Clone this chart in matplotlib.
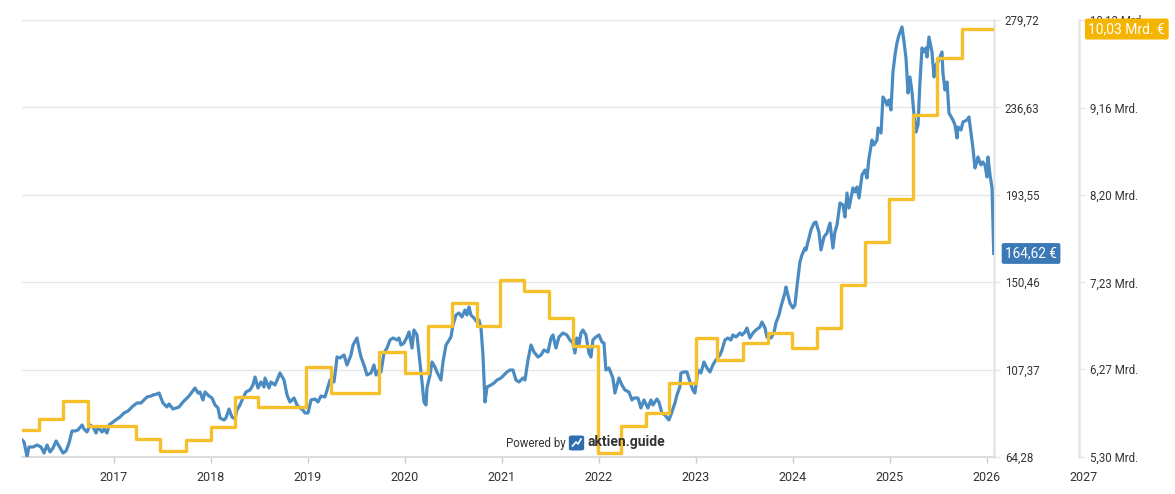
import matplotlib.pyplot as plt
from matplotlib.patches import FancyBboxPatch
from matplotlib.lines import Line2D

plt.rcParams['font.family'] = ['Roboto', 'DejaVu Sans']

# Aktienkurs in EUR (x = Dezimaljahr)
price_x = [2016.057, 2016.078, 2016.109, 2016.129, 2016.171, 2016.212, 2016.253, 2016.284, 2016.315, 2016.346,
           2016.377, 2016.408, 2016.438, 2016.480, 2016.511, 2016.542, 2016.572, 2016.603, 2016.634, 2016.676,
           2016.696, 2016.727, 2016.758, 2016.789, 2016.820, 2016.840, 2016.882, 2016.902, 2016.933, 2016.954,
           2016.995, 2017.036, 2017.067, 2017.108, 2017.149, 2017.201, 2017.242, 2017.283, 2017.314, 2017.345,
           2017.386, 2017.407, 2017.448, 2017.469, 2017.510, 2017.551, 2017.572, 2017.613, 2017.644, 2017.675,
           2017.716, 2017.737, 2017.778, 2017.809, 2017.840, 2017.871, 2017.891, 2017.922, 2017.943, 2017.984,
           2018.015, 2018.046, 2018.077, 2018.097, 2018.138, 2018.159, 2018.190, 2018.221, 2018.252, 2018.272,
           2018.303, 2018.334, 2018.365, 2018.406, 2018.437, 2018.458, 2018.489, 2018.520, 2018.551, 2018.561,
           2018.602, 2018.623, 2018.664, 2018.695, 2018.715, 2018.757, 2018.788, 2018.818, 2018.860, 2018.891,
           2018.922, 2018.952, 2018.973, 2019.004, 2019.035, 2019.076, 2019.107, 2019.138, 2019.179, 2019.210,
           2019.231, 2019.272, 2019.292, 2019.303, 2019.334, 2019.375, 2019.406, 2019.447, 2019.468, 2019.509,
           2019.529, 2019.550, 2019.581, 2019.612, 2019.653, 2019.684, 2019.705, 2019.735, 2019.756, 2019.787,
           2019.818, 2019.849, 2019.880, 2019.921, 2019.942, 2019.962, 2019.993, 2020.024, 2020.045, 2020.076,
           2020.096, 2020.127, 2020.158, 2020.179, 2020.199, 2020.220, 2020.230, 2020.261, 2020.282, 2020.312,
           2020.333, 2020.374, 2020.395, 2020.426, 2020.446, 2020.477, 2020.498, 2020.529, 2020.560, 2020.591,
           2020.622, 2020.642, 2020.663, 2020.683, 2020.714, 2020.745, 2020.766, 2020.787, 2020.807, 2020.828,
           2020.849, 2020.890, 2020.921, 2020.952, 2020.993, 2021.023, 2021.054, 2021.085, 2021.116, 2021.147,
           2021.178, 2021.219, 2021.240, 2021.271, 2021.302, 2021.333, 2021.374, 2021.405, 2021.436, 2021.477,
           2021.508, 2021.528, 2021.559, 2021.590, 2021.631, 2021.672, 2021.703, 2021.734, 2021.755, 2021.775,
           2021.796, 2021.817, 2021.837, 2021.868, 2021.899, 2021.920, 2021.940, 2021.971, 2022.002, 2022.033,
           2022.054, 2022.074, 2022.105, 2022.146, 2022.167, 2022.208, 2022.239, 2022.270, 2022.311, 2022.342,
           2022.363, 2022.404, 2022.435, 2022.466, 2022.507, 2022.538, 2022.558, 2022.600, 2022.620, 2022.651,
           2022.682, 2022.723, 2022.754, 2022.785, 2022.806, 2022.836, 2022.847, 2022.878, 2022.909, 2022.940,
           2022.970, 2022.991, 2023.022, 2023.053, 2023.084, 2023.115, 2023.146, 2023.176, 2023.207, 2023.249,
           2023.270, 2023.300, 2023.331, 2023.362, 2023.383, 2023.414, 2023.455, 2023.476, 2023.507, 2023.527,
           2023.558, 2023.589, 2023.620, 2023.661, 2023.682, 2023.713, 2023.733, 2023.774, 2023.805, 2023.826,
           2023.857, 2023.877, 2023.918, 2023.929, 2023.970, 2024.001, 2024.022, 2024.042, 2024.073, 2024.094,
           2024.125, 2024.135, 2024.166, 2024.187, 2024.218, 2024.238, 2024.269, 2024.290, 2024.321, 2024.352,
           2024.383, 2024.413, 2024.434, 2024.455, 2024.486, 2024.517, 2024.537, 2024.558, 2024.579, 2024.620,
           2024.640, 2024.661, 2024.682, 2024.713, 2024.744, 2024.764, 2024.785, 2024.816, 2024.836, 2024.867,
           2024.878, 2024.909, 2024.929, 2024.950, 2024.970, 2024.991, 2025.011, 2025.032, 2025.053, 2025.073,
           2025.094, 2025.125, 2025.146, 2025.166, 2025.187, 2025.207, 2025.228, 2025.249, 2025.269, 2025.290,
           2025.310, 2025.331, 2025.352, 2025.372, 2025.383, 2025.403, 2025.434, 2025.455, 2025.475, 2025.496,
           2025.537, 2025.547, 2025.568, 2025.589, 2025.609, 2025.650, 2025.671, 2025.692, 2025.702, 2025.733,
           2025.753, 2025.795, 2025.815, 2025.856, 2025.877, 2025.898, 2025.908, 2025.939, 2025.959, 2025.980,
           2026.001, 2026.011, 2026.032, 2026.053, 2026.070]
price = [72.66, 71.68, 64.50, 69.21, 69.21, 70.20, 69.21, 66.25, 70.20, 66.75,
         68.72, 72.17, 69.70, 66.25, 67.24, 71.18, 77.10, 77.10, 77.59, 80.06,
         78.08, 76.61, 80.06, 79.07, 76.11, 79.07, 76.61, 78.08, 76.11, 80.06,
         81.54, 83.01, 84.00, 85.97, 86.96, 89.42, 90.90, 90.90, 92.38, 93.86,
         94.35, 94.85, 95.34, 95.83, 90.90, 88.93, 90.41, 87.94, 88.44, 88.93,
         91.40, 92.38, 94.35, 96.33, 98.30, 95.83, 96.33, 92.38, 96.33, 94.35,
         93.37, 89.92, 88.44, 83.51, 82.52, 83.51, 87.94, 84.00, 83.01, 87.45,
         89.92, 93.37, 96.33, 97.31, 99.78, 103.72, 98.30, 101.26, 98.79, 103.23,
         98.30, 101.26, 99.78, 103.23, 105.69, 102.24, 94.85, 91.40, 93.37, 89.92,
         88.44, 87.45, 85.97, 85.97, 92.38, 92.87, 91.40, 94.35, 93.86, 98.79,
         102.24, 101.26, 108.65, 113.58, 113.09, 114.57, 109.64, 114.57, 119.50, 122.95,
         118.02, 113.58, 109.64, 104.71, 105.69, 109.64, 104.71, 107.17, 106.19, 115.55,
         118.02, 121.96, 122.95, 121.96, 122.95, 119.50, 120.48, 123.44, 125.91, 118.02,
         126.89, 124.43, 110.62, 101.26, 91.40, 89.92, 98.30, 104.71, 111.12, 108.65,
         106.19, 102.24, 111.12, 119.50, 120.98, 123.44, 129.36, 134.29, 135.27, 133.30,
         136.75, 134.29, 138.23, 134.29, 132.81, 130.84, 131.82, 127.88, 114.57, 91.40,
         98.79, 99.78, 100.76, 102.24, 103.23, 104.71, 106.19, 107.17, 107.17, 102.24,
         101.26, 103.23, 102.24, 112.10, 119.50, 116.04, 113.58, 114.57, 117.03, 116.04,
         122.95, 124.43, 118.02, 123.44, 125.41, 124.43, 121.96, 120.48, 115.55, 122.95,
         119.50, 125.41, 126.89, 124.43, 115.55, 113.58, 121.96, 123.44, 124.43, 120.98,
         120.48, 107.17, 108.16, 103.23, 95.83, 103.23, 99.78, 97.31, 96.33, 92.38,
         93.37, 93.37, 88.44, 92.38, 88.44, 92.38, 89.92, 92.87, 91.40, 85.97,
         84.99, 82.52, 86.47, 90.90, 94.85, 98.79, 105.69, 106.19, 106.19, 101.26,
         97.31, 95.83, 107.17, 105.69, 111.12, 108.16, 106.19, 109.64, 112.10, 114.57,
         117.03, 121.96, 122.95, 121.96, 124.43, 123.44, 125.41, 124.43, 125.91, 127.88,
         122.95, 125.41, 126.89, 128.37, 130.84, 127.88, 123.44, 122.95, 125.41, 130.34,
         134.29, 138.23, 145.13, 148.09, 140.20, 137.74, 139.22, 148.09, 160.42, 163.87,
         167.32, 166.33, 172.25, 176.19, 179.64, 180.14, 175.21, 166.33, 172.74, 174.71,
         179.64, 167.32, 175.21, 178.66, 189.50, 188.52, 182.60, 194.43, 187.04, 196.90,
         194.93, 197.39, 191.97, 203.31, 205.77, 201.83, 211.69, 220.56, 218.10, 220.56,
         226.48, 224.01, 241.76, 240.28, 237.82, 240.28, 235.35, 254.09, 262.47, 268.38,
         272.33, 276.27, 268.88, 260.99, 243.73, 251.62, 244.23, 232.89, 224.51, 227.96,
         249.16, 265.92, 263.95, 265.92, 261.48, 271.34, 263.95, 251.62, 257.54, 259.02,
         263.95, 253.59, 245.21, 249.16, 233.87, 230.42, 227.96, 221.55, 226.97, 225.49,
         229.44, 230.42, 231.90, 216.62, 206.76, 209.72, 212.18, 208.24, 209.72, 208.24,
         202.32, 212.18, 203.31, 196.90, 164.62]

# Umsatz in Mrd. EUR, Stufen ab Quartalsbeginn
rev_x = [2016.057, 2016.232, 2016.480, 2016.737, 2017.232, 2017.479, 2017.747, 2018.005, 2018.252, 2018.489,
         2018.983, 2019.241, 2019.735, 2020.003, 2020.240, 2020.488, 2020.745, 2020.982, 2021.229, 2021.487,
         2021.734, 2021.992, 2022.229, 2022.486, 2022.723, 2023.001, 2023.218, 2023.486, 2023.744, 2023.991,
         2024.248, 2024.496, 2024.743, 2024.990, 2025.238, 2025.485, 2025.742, 2026.070]
rev = [5.60, 5.72, 5.92, 5.64, 5.50, 5.37, 5.49, 5.63, 5.96, 5.85,
       6.30, 6.01, 6.46, 6.23, 6.75, 7.00, 6.75, 7.26, 7.14, 6.84,
       6.53, 5.34, 5.64, 5.79, 6.12, 6.62, 6.37, 6.56, 6.67, 6.51,
       6.73, 7.20, 7.68, 8.15, 9.08, 9.71, 10.03, 10.03]

price_ticks = [64.28, 107.37, 150.46, 193.55, 236.63, 279.72]
rev_ticks = [5.30, 6.27, 7.23, 8.20, 9.16, 10.13]
years = list(range(2017, 2027))
last_price = '164,62 €'
last_rev = '10,03 Mrd. €'

blue = '#4a8bc2'
yellow = '#f6c02a'
grid_c = '#e6e6e6'
text_c = '#333333'

fig = plt.figure(figsize=(11.75, 4.94), dpi=100)
ax = fig.add_axes([22 / 1175, 37 / 494, 972 / 1175, 437 / 494])
ax2 = ax.twinx()

ax.plot(price_x, price, color=blue, lw=2.3, solid_joinstyle='round', zorder=3)
ax2.plot(rev_x, rev, color=yellow, lw=2.4, drawstyle='steps-post', zorder=3)

ax.set_xlim(2016.057, 2026.073)
ax.set_ylim(price_ticks[0], price_ticks[-1])
ax2.set_ylim(rev_ticks[0], rev_ticks[-1])

ax.set_yticks(price_ticks)
ax.set_yticklabels([f'{v:.2f}'.replace('.', ',') for v in price_ticks])
ax.yaxis.tick_right()
ax2.set_yticks(rev_ticks)
ax2.set_yticklabels([f'{v:.2f}'.replace('.', ',') + ' Mrd.' for v in rev_ticks])

ax.set_xticks(years)
ax.set_xticklabels([str(y) for y in years])
# 2027 liegt außerhalb der Zeitachse, daher als Text
ax.annotate('2027', xy=(2027, 0), xycoords=('data', 'axes fraction'),
            xytext=(0, -10), textcoords='offset points', ha='center', va='top',
            fontsize=9, color=text_c, annotation_clip=False)

ax.grid(axis='y', color=grid_c, lw=1)
ax.set_axisbelow(True)
for s in ['left', 'top']:
    ax.spines[s].set_visible(False)
    ax2.spines[s].set_visible(False)
ax2.spines['bottom'].set_visible(False)
ax.spines['right'].set_color(grid_c)
ax.spines['right'].set_linewidth(1.8)
ax.spines['bottom'].set_color('#dcdcdc')
ax.spines['bottom'].set_linewidth(1.5)
ax2.spines['right'].set_position(('outward', 61))
ax2.spines['right'].set_color(grid_c)
ax2.spines['right'].set_linewidth(1.8)

ax.tick_params(axis='y', length=4.3, width=1, color=grid_c, pad=3.5, labelsize=8.3, labelcolor=text_c)
ax2.tick_params(axis='y', length=4.3, width=1, color=grid_c, pad=4, labelsize=8.3, labelcolor=text_c)
ax.tick_params(axis='x', length=4, width=1, color='#cccccc', pad=6, labelsize=9, labelcolor=text_c)

# Endwert-Labels
ax.annotate(last_price, xy=(1, price[-1]), xycoords=('axes fraction', 'data'),
            xytext=(8, 0), textcoords='offset points', ha='left', va='center',
            fontsize=9.8, color='white', annotation_clip=False, zorder=5,
            bbox=dict(boxstyle='round,pad=0.25,rounding_size=0.15', fc='#3a78b6', ec='none'))
ax2.annotate(last_rev, xy=(1, rev[-1]), xycoords=('axes fraction', 'data'),
             xytext=(68, 0), textcoords='offset points', ha='left', va='center',
             fontsize=10, color='white', annotation_clip=False, zorder=5,
             bbox=dict(boxstyle='round,pad=0.25,rounding_size=0.15', fc='#f4b400', ec='none'))

# Wasserzeichen
fig.text(506 / 1175, 1 - 443 / 494, 'Powered by', fontsize=8.3, color=text_c, va='center', ha='left')
icon = FancyBboxPatch((570 / 1175, 1 - 450 / 494), 13 / 1175, 14 / 494,
                      boxstyle='round,pad=0.001,rounding_size=0.003', transform=fig.transFigure,
                      fc='#2f6eb0', ec='none')
fig.patches.append(icon)
fig.lines.append(Line2D([572.5 / 1175, 576 / 1175, 578 / 1175, 581 / 1175],
                        [1 - 446 / 494, 1 - 442 / 494, 1 - 444 / 494, 1 - 439 / 494],
                        transform=fig.transFigure, color='white', lw=1.2))
fig.text(587 / 1175, 1 - 442 / 494, 'aktien.guide', fontsize=10, fontweight='bold',
         color=text_c, va='center', ha='left')

fig.savefig('out.png', dpi=100)
